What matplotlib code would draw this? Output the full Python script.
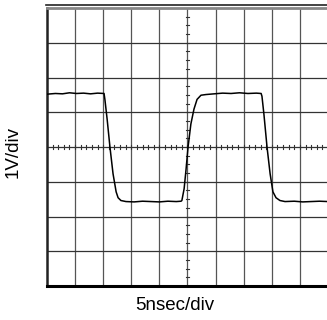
import numpy as np
import matplotlib.pyplot as plt

plt.rcParams['font.family'] = ['Liberation Sans', 'DejaVu Sans']

# scope trace, in divisions (x: 5ns/div, y: 1V/div)
t = [0.00, 0.30, 0.55, 0.80, 1.05, 1.30, 1.55, 1.80, 2.03,
     2.06, 2.14, 2.24, 2.35, 2.46, 2.53, 2.63, 2.81,
     3.10, 3.40, 3.70, 4.00, 4.30, 4.60, 4.77,
     4.80, 4.88, 4.95, 5.02, 5.12, 5.23, 5.34, 5.48, 5.66,
     5.95, 6.25, 6.55, 6.85, 7.15, 7.45, 7.62,
     7.65, 7.72, 7.83, 7.94, 8.04, 8.15, 8.29, 8.47,
     8.80, 9.10, 9.40, 9.70, 10.00]
v = [1.52, 1.54, 1.53, 1.56, 1.54, 1.55, 1.53, 1.55, 1.54,
     1.37, 0.80, 0.00, -0.77, -1.29, -1.46, -1.54, -1.57,
     -1.58, -1.56, -1.57, -1.58, -1.56, -1.57, -1.56,
     -1.54, -1.20, -0.63, 0.00, 0.66, 1.09, 1.37, 1.49, 1.51,
     1.53, 1.55, 1.54, 1.56, 1.54, 1.55, 1.54,
     1.46, 0.94, 0.00, -0.77, -1.29, -1.46, -1.54, -1.57,
     -1.56, -1.58, -1.57, -1.56, -1.57]

fig = plt.figure(figsize=(3.27, 3.2), dpi=100)
ax = fig.add_axes([47/327, 34/320, 281/327, 278/320])

ax.set_xlim(0, 10)
ax.set_ylim(-4, 4)

# graticule
for gx in range(1, 10):
    ax.axvline(gx, color='#555555', lw=0.9, zorder=1)
for gy in range(-3, 4):
    ax.axhline(gy, color='#333333', lw=0.9, zorder=1)

# minor ticks on the center cross
for mx in np.arange(0, 10.01, 0.2):
    ax.plot([mx, mx], [-0.06, 0.06], color='#333333', lw=0.8, zorder=1)
for my in np.arange(-4, 4.01, 0.25):
    ax.plot([5 - 0.05, 5 + 0.05], [my, my], color='#333333', lw=0.8, zorder=1)

ax.plot(t, v, color='black', lw=1.1, zorder=3)

ax.set_xticks([])
ax.set_yticks([])
ax.spines['right'].set_visible(False)
ax.spines['left'].set_color('#222222')
ax.spines['left'].set_linewidth(1.8)
ax.spines['bottom'].set_color('black')
ax.spines['bottom'].set_linewidth(2.2)
ax.spines['top'].set_color('#888888')
ax.spines['top'].set_linewidth(2)
ax.axhline(4.09, xmin=-0.004, xmax=1, color='#222222', lw=1.2, clip_on=False)

fig.text(13/327, 1 - 152/320, '1V/div', rotation=90, ha='center', va='center', fontsize=13.5)
fig.text(175/327, 1 - 306/320, '5nsec/div', ha='center', va='center', fontsize=13.5)

fig.savefig('out.png', dpi=100)
